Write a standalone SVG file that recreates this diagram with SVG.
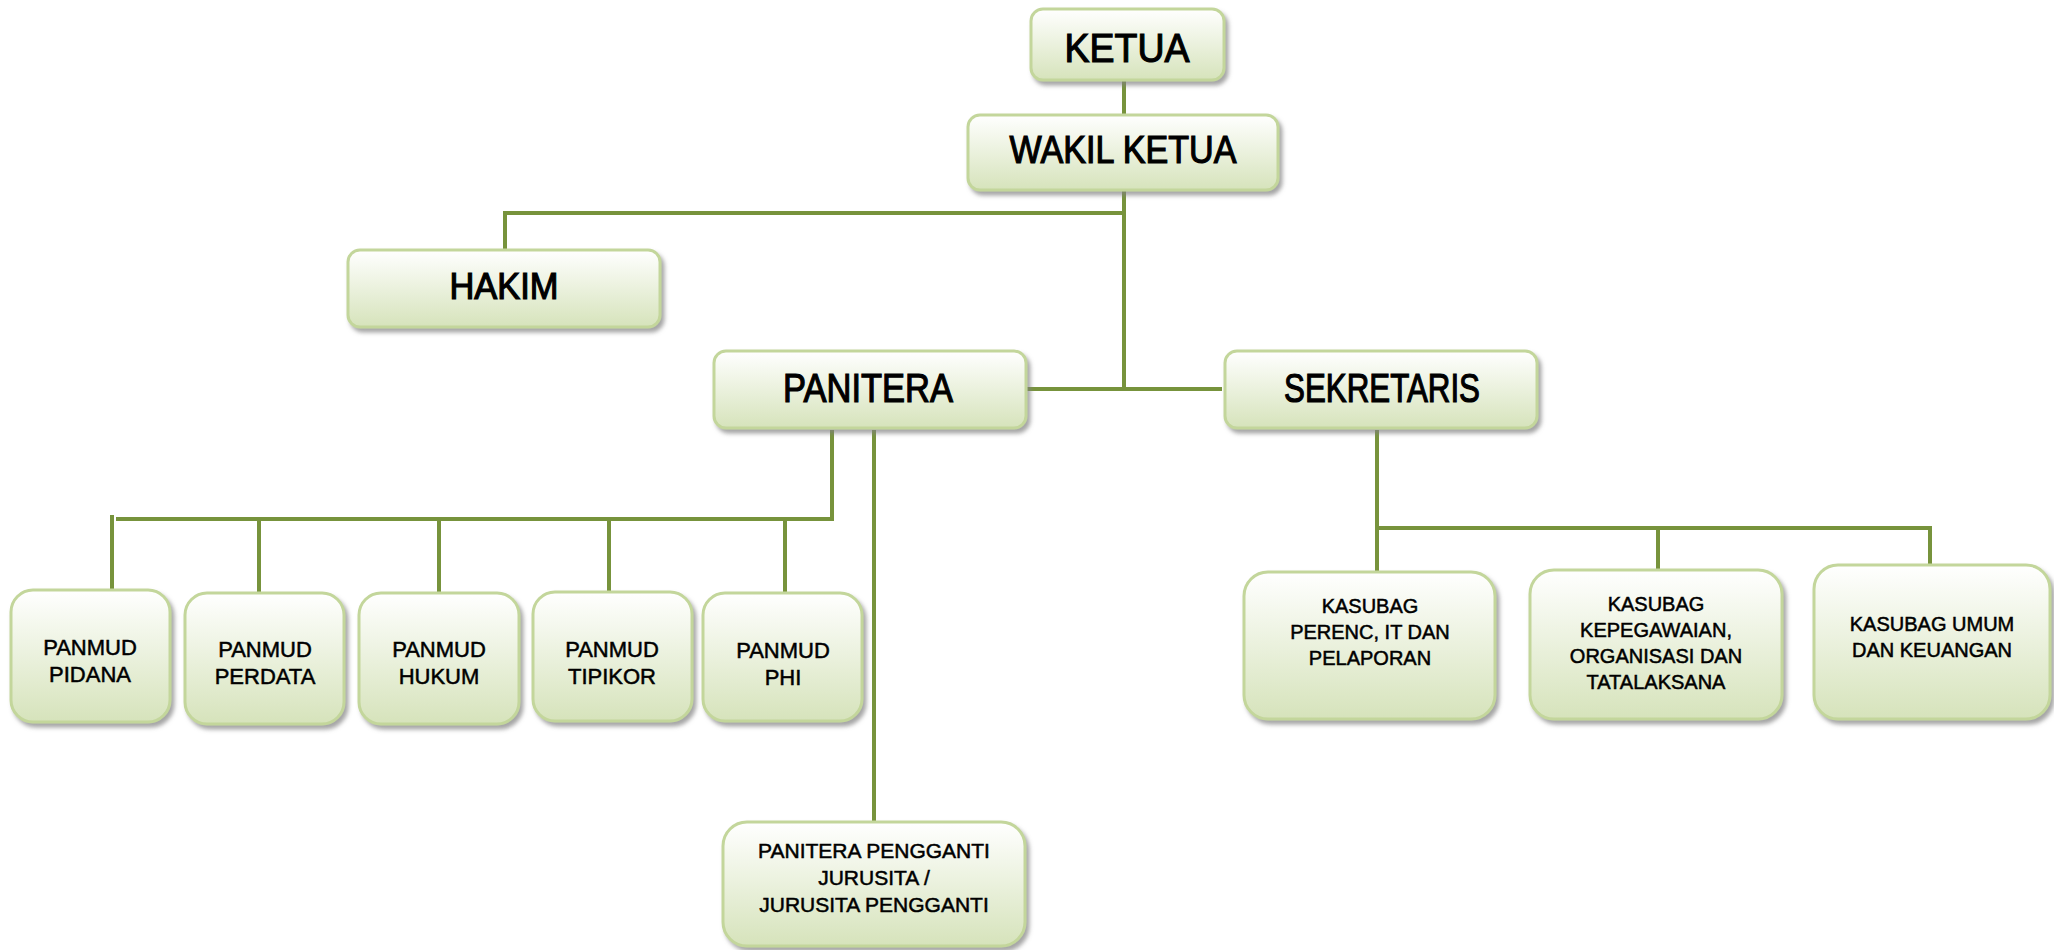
<svg xmlns="http://www.w3.org/2000/svg" width="2054" height="950" viewBox="0 0 2054 950">
<defs>
<linearGradient id="g" x1="0" y1="0" x2="0" y2="1">
<stop offset="0" stop-color="#ffffff"/>
<stop offset="1" stop-color="#d6e3bb"/>
</linearGradient>
<filter id="sh" x="-10%" y="-10%" width="125%" height="130%">
<feDropShadow dx="3" dy="4" stdDeviation="2" flood-color="#7f7f7f" flood-opacity="0.7"/>
</filter>
<style>
.box{fill:url(#g);stroke:#c3d69b;stroke-width:3;filter:url(#sh)}
.ln{stroke:#77933c;stroke-width:4;fill:none}
text{font-family:"Liberation Sans",Arial,sans-serif;fill:#000;text-anchor:middle}
.t1{stroke:#000;stroke-width:1.2}
.t2{font-size:22px;stroke:#000;stroke-width:0.5}
.t3{font-size:20px;stroke:#000;stroke-width:0.5}
.t4{font-size:21px;stroke:#000;stroke-width:0.5}
</style>
</defs>
<g id="connectors">
<line class="ln" x1="1124" y1="80" x2="1124" y2="115"/>
<line class="ln" x1="1124" y1="190" x2="1124" y2="390"/>
<polyline class="ln" points="1126,213 505,213 505,250"/>
<line class="ln" x1="1026" y1="389" x2="1222" y2="389"/>
<polyline class="ln" points="832,430 832,519 116,519"/>
<line class="ln" x1="112" y1="515" x2="112" y2="590"/>
<line class="ln" x1="259" y1="519" x2="259" y2="592"/>
<line class="ln" x1="439" y1="519" x2="439" y2="593"/>
<line class="ln" x1="609" y1="519" x2="609" y2="592"/>
<line class="ln" x1="785" y1="519" x2="785" y2="593"/>
<line class="ln" x1="874" y1="430" x2="874" y2="822"/>
<line class="ln" x1="1377" y1="430" x2="1377" y2="572"/>
<line class="ln" x1="1375" y1="528" x2="1932" y2="528"/>
<line class="ln" x1="1658" y1="528" x2="1658" y2="570"/>
<line class="ln" x1="1930" y1="528" x2="1930" y2="565"/>
</g>
<g id="ketua"><rect class="box" x="1031" y="9" width="193" height="71" rx="12"/><text class="t1" x="1127" y="62" font-size="41" textLength="125" lengthAdjust="spacingAndGlyphs">KETUA</text></g>
<g id="wakil-ketua"><rect class="box" x="968" y="115" width="310" height="75" rx="12"/><text class="t1" x="1123" y="163" font-size="39" textLength="227" lengthAdjust="spacingAndGlyphs">WAKIL KETUA</text></g>
<g id="hakim"><rect class="box" x="348" y="250" width="312" height="77" rx="12"/><text class="t1" x="504" y="299" font-size="36" textLength="109" lengthAdjust="spacingAndGlyphs">HAKIM</text></g>
<g id="panitera"><rect class="box" x="714" y="351" width="312" height="77" rx="12"/><text class="t1" x="868" y="402" font-size="40" textLength="170" lengthAdjust="spacingAndGlyphs">PANITERA</text></g>
<g id="sekretaris"><rect class="box" x="1225" y="351" width="312" height="77" rx="12"/><text class="t1" x="1382" y="402" font-size="40" textLength="196" lengthAdjust="spacingAndGlyphs">SEKRETARIS</text></g>
<g id="panmud-pidana"><rect class="box" x="11" y="590" width="159" height="132" rx="22"/><text class="t2" x="90" y="655">PANMUD</text><text class="t2" x="90" y="682">PIDANA</text></g>
<g id="panmud-perdata"><rect class="box" x="185" y="593" width="159" height="131" rx="22"/><text class="t2" x="265" y="657">PANMUD</text><text class="t2" x="265" y="684">PERDATA</text></g>
<g id="panmud-hukum"><rect class="box" x="359" y="593" width="160" height="131" rx="22"/><text class="t2" x="439" y="657">PANMUD</text><text class="t2" x="439" y="684">HUKUM</text></g>
<g id="panmud-tipikor"><rect class="box" x="533" y="592" width="159" height="129" rx="22"/><text class="t2" x="612" y="657">PANMUD</text><text class="t2" x="612" y="684">TIPIKOR</text></g>
<g id="panmud-phi"><rect class="box" x="703" y="593" width="159" height="128" rx="22"/><text class="t2" x="783" y="658">PANMUD</text><text class="t2" x="783" y="685">PHI</text></g>
<g id="panitera-pengganti"><rect class="box" x="723" y="822" width="302" height="124" rx="24"/><text class="t4" x="874" y="858">PANITERA PENGGANTI</text><text class="t4" x="874" y="885">JURUSITA /</text><text class="t4" x="874" y="912">JURUSITA PENGGANTI</text></g>
<g id="kasubag-perenc"><rect class="box" x="1244" y="572" width="251" height="147" rx="24"/><text class="t3" x="1370" y="613">KASUBAG</text><text class="t3" x="1370" y="639">PERENC, IT DAN</text><text class="t3" x="1370" y="665">PELAPORAN</text></g>
<g id="kasubag-kepegawaian"><rect class="box" x="1530" y="570" width="252" height="149" rx="24"/><text class="t3" x="1656" y="611">KASUBAG</text><text class="t3" x="1656" y="637">KEPEGAWAIAN,</text><text class="t3" x="1656" y="663">ORGANISASI DAN</text><text class="t3" x="1656" y="689">TATALAKSANA</text></g>
<g id="kasubag-umum"><rect class="box" x="1814" y="565" width="236" height="154" rx="24"/><text class="t3" x="1932" y="631">KASUBAG UMUM</text><text class="t3" x="1932" y="657">DAN KEUANGAN</text></g>
</svg>
